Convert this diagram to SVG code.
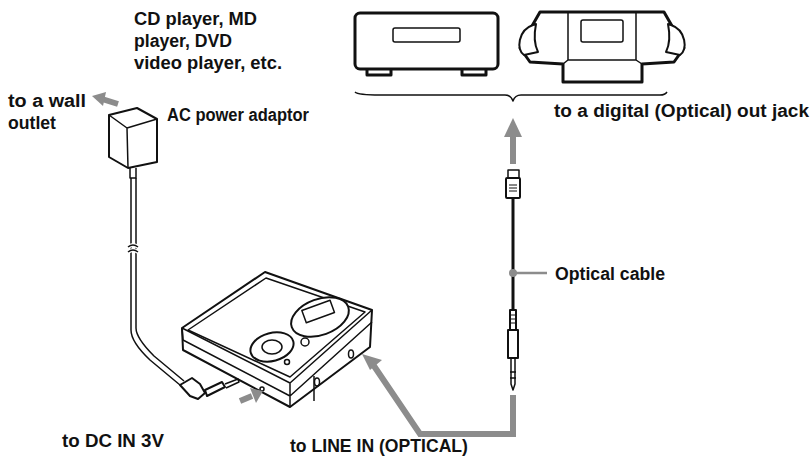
<svg xmlns="http://www.w3.org/2000/svg" width="812" height="456" viewBox="0 0 812 456">
<style>
text{font-family:"Liberation Sans",Arial,sans-serif;font-weight:bold;font-size:17.5px;fill:#111}
.k{fill:none;stroke:#111;stroke-width:3;stroke-linejoin:round}
.t{fill:none;stroke:#111;stroke-width:1.5;stroke-linejoin:round}
.w{fill:#fff;stroke:#111;stroke-width:2;stroke-linejoin:round}
.g{fill:none;stroke:#8c8c8c;stroke-width:6}
.gf{fill:#8c8c8c}
</style>
<rect width="812" height="456" fill="#fff"/>
<g id="labels">
<text x="134" y="25" textLength="123" lengthAdjust="spacingAndGlyphs">CD player, MD</text>
<text x="134" y="47" textLength="98" lengthAdjust="spacingAndGlyphs">player, DVD</text>
<text x="134" y="69" textLength="148" lengthAdjust="spacingAndGlyphs">video player, etc.</text>
<text x="8" y="107" textLength="78" lengthAdjust="spacingAndGlyphs">to a wall</text>
<text x="8" y="129" textLength="48" lengthAdjust="spacingAndGlyphs">outlet</text>
<text x="167" y="121" textLength="142" lengthAdjust="spacingAndGlyphs">AC power adaptor</text>
<text x="554" y="117" textLength="255" lengthAdjust="spacingAndGlyphs">to a digital (Optical) out jack</text>
<text x="555" y="280" textLength="110" lengthAdjust="spacingAndGlyphs">Optical cable</text>
<text x="62" y="447" textLength="102" lengthAdjust="spacingAndGlyphs">to DC IN 3V</text>
<text x="290" y="452" textLength="178" lengthAdjust="spacingAndGlyphs">to LINE IN (OPTICAL)</text>
</g>
<g id="deck">
<rect x="355" y="13" width="143" height="56" rx="5" class="k"/>
<rect x="393" y="28" width="67" height="14" rx="2" class="t" stroke-width="2"/>
<path d="M367 69v6h24v-6M462 69v6h24v-6" class="k" stroke-width="2.5"/>
</g>
<g id="boombox">
<path d="M532 26 L540 12 H664 L672 26 L684 48 L674 62 L642 64 L642 82 H563 L563 64 L530 62 L520 48 Z" class="k"/>
<path d="M568 12V60H636V12M563 64 L568 60 M642 64 L636 60" class="t" stroke-width="2"/>
<rect x="581" y="20" width="42" height="22" rx="2" class="t" stroke-width="2"/>
<path d="M533 25 C518 30 516 50 524 55 L538 52 C534 44 534 34 536 24 Z" class="w"/>
<path d="M671 25 C686 30 688 50 680 55 L666 52 C670 44 670 34 668 24 Z" class="w"/>
</g>
<g id="brace"><path d="M355 92 Q358 95 380 95 H505 Q511 95 513 101 Q515 95 521 95 H660 Q665 95 667 92" class="t" stroke-width="1.3"/></g>
<g id="adaptor">
<path d="M109 115 L137 108 L157 119 L157 162 L128 168 L109 157 Z" class="w"/>
<path d="M109 115 L127 128 L157 119 M127 128 L128 168" class="t"/>
<path d="M130 168v10h6v-10" class="t"/>
<path d="M131 178 V330 Q131 342 150 360 L180 385 M136 178 V328 Q136 338 154 356 L184 381" class="t"/>
<path d="M128 247 q5 -4 10 0 M128 252 q5 -4 10 0" fill="none" stroke="#fff" stroke-width="4"/>
<path d="M128 247 q5 -4 10 0 M128 252 q5 -4 10 0" class="t" stroke-width="1"/>
</g>
<g id="player">
<path d="M182 328 L265 272 L372 310 L370 347 L290 407 L183 350 Z" class="w"/>
<path d="M182 328 L183 340 L290 396 L372 322 M290 383 L290 407 M290 383 L182 328 M290 383 L372 310" class="t"/>
<path d="M188 330 L266 278 L365 312 L290 377 Z" class="t" stroke-width="1"/>
<ellipse cx="320" cy="317" rx="30" ry="18" transform="rotate(-20 320 317)" class="w"/>
<rect x="303" y="305" width="30" height="13" transform="rotate(-20 318 311)" class="t"/>
<ellipse cx="272" cy="347" rx="22" ry="14" transform="rotate(-15 272 347)" class="w"/>
<ellipse cx="272" cy="347" rx="10" ry="7" class="t"/>
<circle cx="305" cy="342" r="4" class="t"/>
<circle cx="287" cy="362" r="2.5" class="t"/>
<ellipse cx="351" cy="354" rx="2.5" ry="4" class="t"/>
<ellipse cx="317" cy="382" rx="2.5" ry="4" class="t"/>
<path d="M314 376 L314 401" class="t" stroke-width="1"/>
<circle cx="262" cy="389" r="2" class="t"/>
</g>
<g id="dcplug">
<path d="M180 385 L192 378 L200 384 L205 393 L198 399 L190 396 Z" class="w"/>
<path d="M205 390 L222 382 L225 387 L207 396 Z" class="w"/>
<path d="M225 384 L238 379 L239 382 L226 388" class="t"/>
</g>
<g id="optical">
<path d="M513 198 V310" stroke="#111" stroke-width="3"/>
<rect x="508" y="170" width="11" height="8" class="t"/>
<rect x="506" y="178" width="14" height="20" rx="1" class="w" stroke-width="1.5"/>
<path d="M509 185h8M509 188h8M509 191h8" stroke="#111" stroke-width="1"/>
<rect x="510" y="310" width="6" height="20" class="w" stroke-width="1.5"/>
<path d="M510 315h6M510 319h6M510 323h6" stroke="#111" stroke-width="1"/>
<rect x="508" y="330" width="10" height="28" class="w" stroke-width="1.5"/>
<path d="M511 358 V384 L513 390 L515 384 V358 M510 372h6M510 378h6" class="t" stroke-width="1.3"/>
</g>
<g id="connectors">
<path d="M513 164 V135" class="g"/>
<path d="M504 137 L513 118 L522 137 Z" class="gf"/>
<path d="M513 395 V434 H420 L372 363" class="g" stroke-width="5"/>
<path d="M362 354 L382 360 L370 370 Z" class="gf"/>
<circle cx="513" cy="273" r="4" class="gf"/>
<path d="M513 273 H547" stroke="#8c8c8c" stroke-width="2.5"/>
<path d="M118 104 L102 99" class="g" stroke-width="5"/>
<path d="M92 96 L106 92 L103 106 Z" class="gf"/>
<path d="M240 401 L252 396" class="g" stroke-width="7"/>
<path d="M250 388 L263 391 L256 403 Z" class="gf"/>
</g>
</svg>
